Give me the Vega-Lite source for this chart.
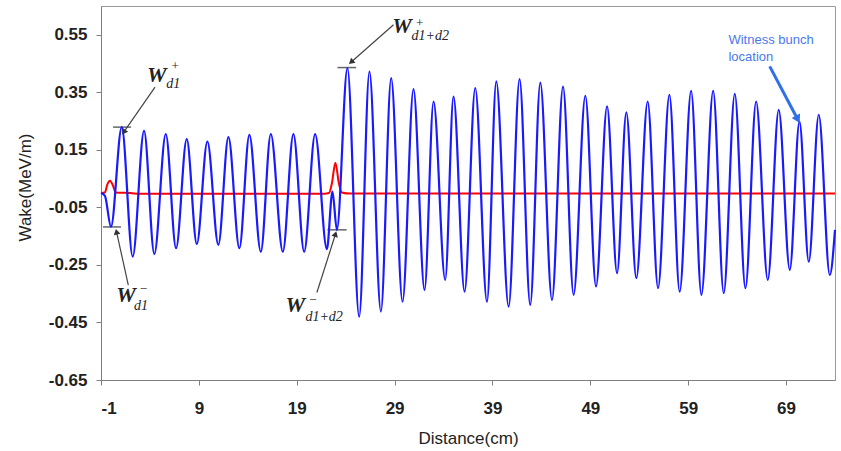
{
  "$schema": "https://vega.github.io/schema/vega-lite/v6.json",
  "width": 734,
  "height": 374,
  "autosize": {"type": "none"},
  "padding": {"left": 101, "top": 6, "right": 6, "bottom": 71},
  "background": "white",
  "config": {
    "view": {"stroke": "#9a9a9a", "strokeWidth": 1},
    "font": "Liberation Sans"
  },
  "datasets": {
    "wake": [
      {"d": -1.0, "w": 0.0},
      {"d": -0.6, "w": -0.01},
      {"d": 0.02, "w": -0.117},
      {"d": 1.12, "w": 0.229},
      {"d": 2.24, "w": -0.221},
      {"d": 3.40, "w": 0.216},
      {"d": 4.45, "w": -0.212},
      {"d": 5.62, "w": 0.205},
      {"d": 6.67, "w": -0.192},
      {"d": 7.76, "w": 0.187},
      {"d": 8.79, "w": -0.177},
      {"d": 9.87, "w": 0.179},
      {"d": 10.99, "w": -0.18},
      {"d": 12.02, "w": 0.194},
      {"d": 13.14, "w": -0.192},
      {"d": 14.16, "w": 0.202},
      {"d": 15.33, "w": -0.204},
      {"d": 16.35, "w": 0.205},
      {"d": 17.58, "w": -0.204},
      {"d": 18.66, "w": 0.205},
      {"d": 19.76, "w": -0.204},
      {"d": 20.88, "w": 0.205},
      {"d": 22.08, "w": -0.195},
      {"d": 22.65, "w": 0.005},
      {"d": 23.10, "w": -0.128},
      {"d": 24.18, "w": 0.434},
      {"d": 25.38, "w": -0.43},
      {"d": 26.43, "w": 0.422},
      {"d": 27.60, "w": -0.412},
      {"d": 28.65, "w": 0.399},
      {"d": 29.81, "w": -0.378},
      {"d": 30.93, "w": 0.361},
      {"d": 32.06, "w": -0.337},
      {"d": 32.98, "w": 0.318},
      {"d": 34.17, "w": -0.302},
      {"d": 35.02, "w": 0.335},
      {"d": 36.15, "w": -0.343},
      {"d": 37.24, "w": 0.365},
      {"d": 38.44, "w": -0.378},
      {"d": 39.39, "w": 0.388},
      {"d": 40.65, "w": -0.395},
      {"d": 41.77, "w": 0.396},
      {"d": 42.86, "w": -0.389},
      {"d": 43.89, "w": 0.384},
      {"d": 45.08, "w": -0.372},
      {"d": 46.21, "w": 0.37},
      {"d": 47.29, "w": -0.354},
      {"d": 48.49, "w": 0.338},
      {"d": 49.58, "w": -0.325},
      {"d": 50.71, "w": 0.301},
      {"d": 51.73, "w": -0.279},
      {"d": 52.68, "w": 0.28},
      {"d": 53.70, "w": -0.296},
      {"d": 54.86, "w": 0.318},
      {"d": 55.92, "w": -0.331},
      {"d": 57.08, "w": 0.341},
      {"d": 58.13, "w": -0.343},
      {"d": 59.30, "w": 0.355},
      {"d": 60.35, "w": -0.354},
      {"d": 61.55, "w": 0.355},
      {"d": 62.63, "w": -0.348},
      {"d": 63.76, "w": 0.345},
      {"d": 64.85, "w": -0.331},
      {"d": 65.94, "w": 0.318},
      {"d": 67.13, "w": -0.302},
      {"d": 68.25, "w": 0.289},
      {"d": 69.38, "w": -0.267},
      {"d": 70.37, "w": 0.248},
      {"d": 71.32, "w": -0.239},
      {"d": 72.34, "w": 0.272},
      {"d": 73.47, "w": -0.285},
      {"d": 74.0, "w": -0.128}
    ],
    "drive": [
      {"d": -1.0, "w": 0.0},
      {"d": -0.6, "w": 0.002},
      {"d": -0.35, "w": 0.03},
      {"d": -0.08, "w": 0.043},
      {"d": 0.2, "w": 0.028},
      {"d": 0.5, "w": 0.002},
      {"d": 2.0, "w": 0.0},
      {"d": 3.0, "w": -0.003},
      {"d": 21.5, "w": -0.003},
      {"d": 22.3, "w": 0.0},
      {"d": 22.6, "w": 0.035},
      {"d": 22.95, "w": 0.105},
      {"d": 23.3, "w": 0.035},
      {"d": 23.6, "w": 0.002},
      {"d": 24.5, "w": -0.002},
      {"d": 74.0, "w": -0.002}
    ],
    "markers": [
      {"x": 0.23, "x2": 2.07, "y": 0.229},
      {"x": -0.8, "x2": 1.04, "y": -0.118},
      {"x": 22.14, "x2": 24.1, "y": -0.128},
      {"x": 23.16, "x2": 25.07, "y": 0.436}
    ],
    "arrows": [
      {"name": "a1", "x": 4.52, "y": 0.368, "x2": 1.38, "y2": 0.214},
      {"name": "a2", "x": 1.79, "y": -0.32, "x2": 0.605, "y2": -0.138},
      {"name": "a3", "x": 21.06, "y": -0.346, "x2": 22.93, "y2": -0.146},
      {"name": "a4", "x": 28.89, "y": 0.585, "x2": 24.63, "y2": 0.457},
      {"name": "witness", "x": 67.33, "y": 0.44, "x2": 70.13, "y2": 0.26}
    ],
    "labels": [
      {"kind": "W", "t": "W", "x": 4.70, "y": 0.411},
      {"kind": "sup", "t": "+", "x": 6.57, "y": 0.44},
      {"kind": "sub", "t": "d1", "x": 6.39, "y": 0.379},
      {"kind": "W", "t": "W", "x": 1.56, "y": -0.354},
      {"kind": "sup", "t": "−", "x": 3.33, "y": -0.335},
      {"kind": "sub", "t": "d1", "x": 3.09, "y": -0.393},
      {"kind": "W", "t": "W", "x": 18.84, "y": -0.389},
      {"kind": "sup", "t": "−", "x": 20.65, "y": -0.372},
      {"kind": "sub", "t": "d1+d2", "x": 21.8, "y": -0.43},
      {"kind": "W", "t": "W", "x": 29.75, "y": 0.579},
      {"kind": "sup", "t": "+", "x": 31.55, "y": 0.591},
      {"kind": "sub", "t": "d1+d2", "x": 32.64, "y": 0.544}
    ],
    "notes": [
      {"t": "Witness bunch", "x": 63.11, "y": 0.533},
      {"t": "location", "x": 63.11, "y": 0.472}
    ]
  },
  "layer": [
    {
      "data": {"name": "markers"},
      "mark": {"type": "rule", "color": "#666666", "strokeWidth": 1.5},
      "encoding": {
        "x": {"field": "x", "type": "quantitative", "scale": {"domain": [-1, 74], "nice": false, "zero": false},
          "axis": {
            "values": [-1, 9, 19, 29, 39, 49, 59, 69],
            "labelExpr": "replace(format(datum.value, 'd'), '−', '-')",
            "title": "Distance(cm)",
            "grid": false,
            "domainColor": "#7f7f7f", "tickColor": "#7f7f7f", "tickSize": 5,
            "labelFont": "Liberation Sans", "labelFontSize": 17, "labelFontWeight": "bold", "labelColor": "#222222",
            "labelPadding": 23, "labelBaseline": "middle",
            "titleFont": "Liberation Sans", "titleFontSize": 17, "titleFontWeight": "normal", "titleColor": "#222222",
            "titleX": 367, "titleY": 58, "titleBaseline": "middle", "titleAlign": "center"
          }},
        "x2": {"field": "x2"},
        "y": {"field": "y", "type": "quantitative", "scale": {"domain": [-0.65, 0.65], "nice": false, "zero": false},
          "axis": {
            "values": [-0.65, -0.45, -0.25, -0.05, 0.15, 0.35, 0.55],
            "labelExpr": "replace(format(datum.value, '.2f'), '−', '-')",
            "title": "Wake(MeV/m)",
            "grid": false,
            "domainColor": "#7f7f7f", "tickColor": "#7f7f7f", "tickSize": 5,
            "labelFont": "Liberation Sans", "labelFontSize": 17, "labelFontWeight": "bold", "labelColor": "#222222",
            "labelPadding": 9,
            "titleFont": "Liberation Sans", "titleFontSize": 17, "titleFontWeight": "normal", "titleColor": "#222222",
            "titleX": -76, "titleY": 181, "titleAngle": 270, "titleBaseline": "middle", "titleAlign": "center"
          }}
      }
    },
    {
      "data": {"name": "drive"},
      "mark": {"type": "line", "color": "#ff0000", "strokeWidth": 2, "interpolate": "monotone"},
      "encoding": {
        "x": {"field": "d", "type": "quantitative"},
        "y": {"field": "w", "type": "quantitative"}
      }
    },
    {
      "data": {"name": "wake"},
      "mark": {"type": "line", "color": "#1a1aff", "strokeWidth": 2.2, "interpolate": "monotone"},
      "encoding": {
        "x": {"field": "d", "type": "quantitative"},
        "y": {"field": "w", "type": "quantitative"}
      }
    },
    {
      "data": {"name": "arrows"},
      "transform": [{"filter": "datum.name != 'witness'"}],
      "mark": {"type": "rule", "color": "#444444", "strokeWidth": 1.2},
      "encoding": {
        "x": {"field": "x", "type": "quantitative"},
        "y": {"field": "y", "type": "quantitative"},
        "x2": {"field": "x2"},
        "y2": {"field": "y2"}
      }
    },
    {
      "data": {"name": "arrows"},
      "transform": [{"filter": "datum.name == 'witness'"}],
      "mark": {"type": "rule", "color": "#2f6fe8", "strokeWidth": 3},
      "encoding": {
        "x": {"field": "x", "type": "quantitative"},
        "y": {"field": "y", "type": "quantitative"},
        "x2": {"field": "x2"},
        "y2": {"field": "y2"}
      }
    },
    {
      "data": {"name": "arrows"},
      "transform": [{"filter": "datum.name == 'a1'"}],
      "mark": {"type": "point", "shape": "triangle", "filled": true, "color": "#333333", "size": 45, "angle": 214.7, "opacity": 1},
      "encoding": {"x": {"field": "x2", "type": "quantitative"}, "y": {"field": "y2", "type": "quantitative"}}
    },
    {
      "data": {"name": "arrows"},
      "transform": [{"filter": "datum.name == 'a2'"}],
      "mark": {"type": "point", "shape": "triangle", "filled": true, "color": "#333333", "size": 45, "angle": 347.5, "opacity": 1},
      "encoding": {"x": {"field": "x2", "type": "quantitative"}, "y": {"field": "y2", "type": "quantitative"}}
    },
    {
      "data": {"name": "arrows"},
      "transform": [{"filter": "datum.name == 'a3'"}],
      "mark": {"type": "point", "shape": "triangle", "filled": true, "color": "#333333", "size": 45, "angle": 17.6, "opacity": 1},
      "encoding": {"x": {"field": "x2", "type": "quantitative"}, "y": {"field": "y2", "type": "quantitative"}}
    },
    {
      "data": {"name": "arrows"},
      "transform": [{"filter": "datum.name == 'a4'"}],
      "mark": {"type": "point", "shape": "triangle", "filled": true, "color": "#333333", "size": 45, "angle": 228.6, "opacity": 1},
      "encoding": {"x": {"field": "x2", "type": "quantitative"}, "y": {"field": "y2", "type": "quantitative"}}
    },
    {
      "data": {"name": "arrows"},
      "transform": [{"filter": "datum.name == 'witness'"}],
      "mark": {"type": "point", "shape": "triangle", "filled": true, "color": "#2f6fe8", "size": 90, "angle": 152, "opacity": 1},
      "encoding": {"x": {"field": "x2", "type": "quantitative"}, "y": {"field": "y2", "type": "quantitative"}}
    },
    {
      "data": {"name": "labels"},
      "transform": [{"filter": "datum.kind == 'W'"}],
      "mark": {"type": "text", "font": "Liberation Serif", "fontSize": 22, "fontWeight": "bold", "fontStyle": "italic", "color": "#222222", "align": "center", "baseline": "middle"},
      "encoding": {"x": {"field": "x", "type": "quantitative"}, "y": {"field": "y", "type": "quantitative"}, "text": {"field": "t"}}
    },
    {
      "data": {"name": "labels"},
      "transform": [{"filter": "datum.kind == 'sup'"}],
      "mark": {"type": "text", "font": "Liberation Serif", "fontSize": 13, "color": "#222222", "align": "center", "baseline": "middle"},
      "encoding": {"x": {"field": "x", "type": "quantitative"}, "y": {"field": "y", "type": "quantitative"}, "text": {"field": "t"}}
    },
    {
      "data": {"name": "labels"},
      "transform": [{"filter": "datum.kind == 'sub'"}],
      "mark": {"type": "text", "font": "Liberation Serif", "fontSize": 14, "fontStyle": "italic", "color": "#222222", "align": "center", "baseline": "middle"},
      "encoding": {"x": {"field": "x", "type": "quantitative"}, "y": {"field": "y", "type": "quantitative"}, "text": {"field": "t"}}
    },
    {
      "data": {"name": "notes"},
      "mark": {"type": "text", "font": "Liberation Sans", "fontSize": 13, "color": "#4a78f0", "align": "left", "baseline": "middle"},
      "encoding": {"x": {"field": "x", "type": "quantitative"}, "y": {"field": "y", "type": "quantitative"}, "text": {"field": "t"}}
    }
  ]
}
